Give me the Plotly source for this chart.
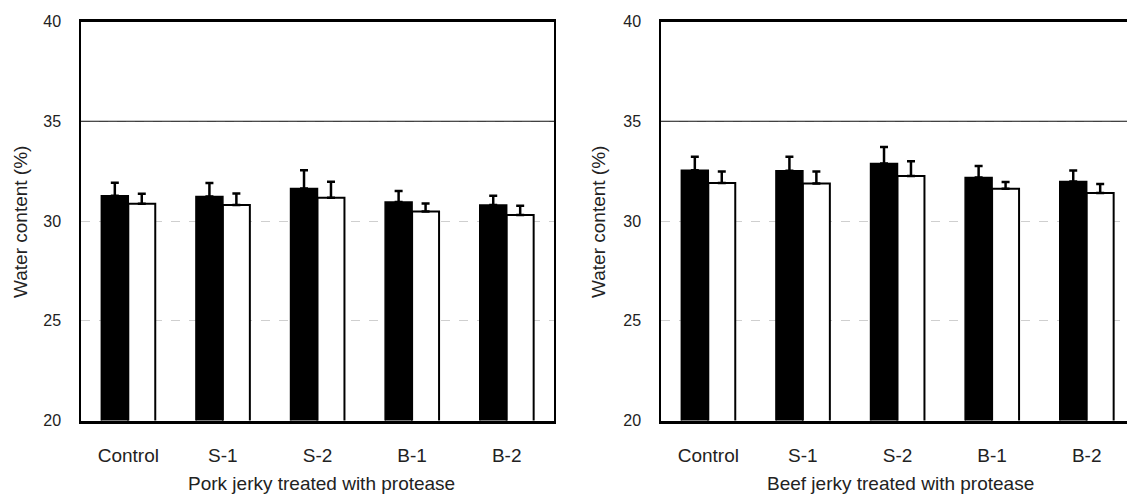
import plotly.graph_objects as go

categories = ["Control", "S-1", "S-2", "B-1", "B-2"]

pork_black = [31.27, 31.23, 31.63, 30.95, 30.80]
pork_black_err = [0.65, 0.68, 0.92, 0.55, 0.47]
pork_white = [30.87, 30.80, 31.17, 30.48, 30.30]
pork_white_err = [0.50, 0.58, 0.80, 0.40, 0.47]

beef_black = [32.55, 32.52, 32.88, 32.18, 31.98]
beef_black_err = [0.67, 0.70, 0.83, 0.58, 0.55]
beef_white = [31.90, 31.88, 32.25, 31.62, 31.40]
beef_white_err = [0.58, 0.60, 0.75, 0.33, 0.45]

y_ticks = [20, 25, 30, 35, 40]
y_title = "Water content (%)"
pork_title = "Pork jerky treated with protease"
beef_title = "Beef jerky treated with protease"
ref_line = 35

FONT = "Liberation Sans, Arial, sans-serif"
W, H = 1127, 497

fig = go.Figure()


def add_pair(black, berr, white, werr, xa, ya):
    fig.add_trace(go.Bar(
        x=categories, y=black, xaxis=xa, yaxis=ya,
        marker=dict(color="black", line=dict(color="black", width=1.5)),
        error_y=dict(type="data", symmetric=False, array=berr,
                     arrayminus=[0] * len(berr), color="black",
                     thickness=2.5, width=4),
        showlegend=False, offsetgroup="a",
    ))
    fig.add_trace(go.Bar(
        x=categories, y=white, xaxis=xa, yaxis=ya,
        marker=dict(color="white", line=dict(color="black", width=2)),
        error_y=dict(type="data", symmetric=False, array=werr,
                     arrayminus=[0] * len(werr), color="black",
                     thickness=2.5, width=4),
        showlegend=False, offsetgroup="b",
    ))


add_pair(pork_black, pork_black_err, pork_white, pork_white_err, "x", "y")
add_pair(beef_black, beef_black_err, beef_white, beef_white_err, "x2", "y2")

ydom = [1 - 420.5 / H, 1 - 21.5 / H]
lx0, lx1 = 81 / W, 554 / W
rx0 = 661 / W
cat_px = 94.6
r_end = -0.5 + (W - 661) / cat_px

yaxis_common = dict(
    range=[20, 40], tickvals=y_ticks, domain=ydom,
    showgrid=True, gridcolor="#cfcfcf", griddash="dash", gridwidth=1,
    showline=True, linecolor="black", linewidth=1.5,
    ticks="", ticklabelstandoff=15,
    tickfont=dict(family=FONT, size=16, color="#222"),
    zeroline=False, fixedrange=True,
)
xaxis_common = dict(
    showgrid=False, showline=True, linecolor="black", linewidth=2.5,
    ticks="", ticklabelstandoff=16,
    tickfont=dict(family=FONT, size=19, color="#222"),
    fixedrange=True,
)

fig.update_layout(
    width=W, height=H,
    margin=dict(l=0, r=0, t=0, b=0, autoexpand=False),
    paper_bgcolor="white", plot_bgcolor="white",
    barmode="group", bargap=0.43, bargroupgap=0,
    xaxis=dict(domain=[lx0, lx1], range=[-0.5, 4.5], anchor="y",
               mirror=True, **xaxis_common),
    yaxis=dict(anchor="x", mirror=True, **yaxis_common),
    xaxis2=dict(domain=[rx0, 1.0], range=[-0.5, r_end], anchor="y2",
                mirror=True, **xaxis_common),
    yaxis2=dict(anchor="x2", mirror=False, **yaxis_common),
    shapes=[
        dict(type="line", xref="x domain", yref="y", x0=0, x1=1,
             y0=ref_line, y1=ref_line, line=dict(color="#111", width=1.2),
             layer="above"),
        dict(type="line", xref="x2 domain", yref="y2", x0=0, x1=1,
             y0=ref_line, y1=ref_line, line=dict(color="#111", width=1.2),
             layer="above"),
    ],
    annotations=[
        dict(text=y_title, textangle=-90, xref="paper", yref="paper",
             x=20 / W, y=1 - 222 / H, showarrow=False,
             xanchor="center", yanchor="middle",
             font=dict(family=FONT, size=19, color="#222")),
        dict(text=y_title, textangle=-90, xref="paper", yref="paper",
             x=598 / W, y=1 - 222 / H, showarrow=False,
             xanchor="center", yanchor="middle",
             font=dict(family=FONT, size=19, color="#222")),
        dict(text=pork_title, xref="paper", yref="paper",
             x=321 / W, y=1 - 483 / H, showarrow=False,
             xanchor="center", yanchor="middle",
             font=dict(family=FONT, size=19, color="#222")),
        dict(text=beef_title, xref="paper", yref="paper",
             x=900 / W, y=1 - 483 / H,
             showarrow=False, xanchor="center", yanchor="middle",
             font=dict(family=FONT, size=19, color="#222")),
    ],
)

fig.write_html("out.html")
